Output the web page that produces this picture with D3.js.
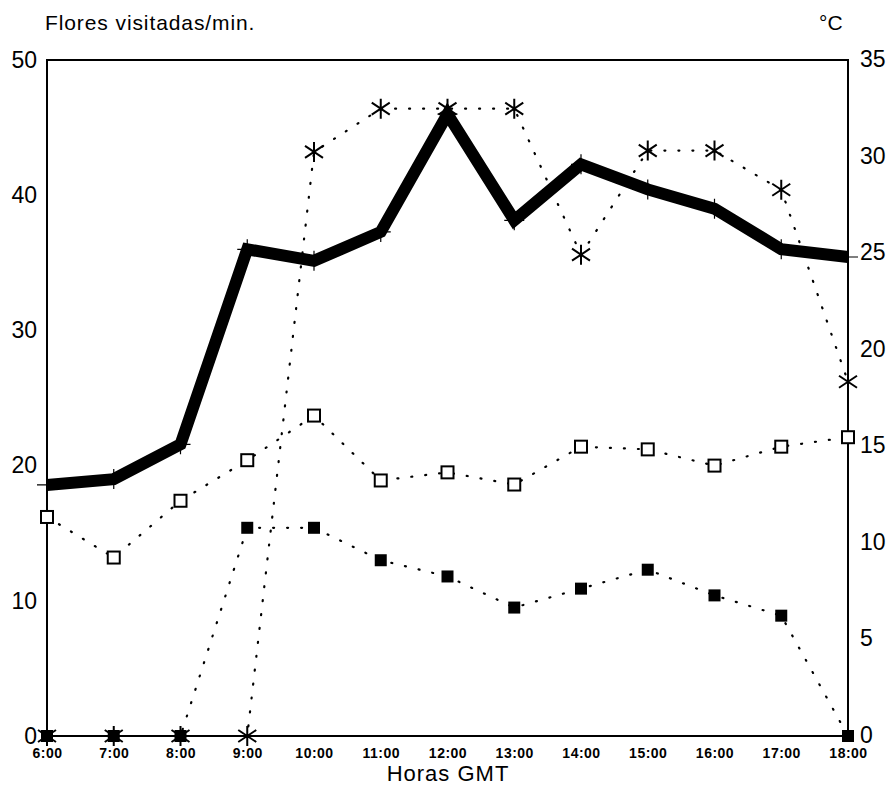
<!DOCTYPE html>
<html>
<head>
<meta charset="utf-8">
<script src="https://cdn.jsdelivr.net/npm/d3@7"></script>
<style>
  body { margin: 0; background: #fff; }
  text { font-family: "Liberation Sans", Arial, sans-serif; fill: #000; }
</style>
</head>
<body>
<svg id="chart" width="892" height="807"></svg>
<script>
const hours = ["6:00","7:00","8:00","9:00","10:00","11:00","12:00","13:00","14:00","15:00","16:00","17:00","18:00"];
const temperature = [13.0, 13.3, 15.1, 25.2, 24.6, 26.1, 32.2, 26.7, 29.6, 28.3, 27.3, 25.2, 24.8];
const seriesAsterisk = [0, 0, 0, 0, 43.2, 46.4, 46.4, 46.4, 35.6, 43.3, 43.3, 40.4, 26.2];
const seriesOpenSquare = [16.2, 13.2, 17.4, 20.4, 23.7, 18.9, 19.5, 18.6, 21.4, 21.2, 20.0, 21.4, 22.1];
const seriesFilledSquare = [0, 0, 0, 15.4, 15.4, 13.0, 11.8, 9.5, 10.9, 12.3, 10.4, 8.9, 0];
const leftTicks = [0, 10, 20, 30, 40, 50];
const rightTicks = [0, 5, 10, 15, 20, 25, 30, 35];

(function () {
const svg = d3.select("#chart");
const mL = 47, mR = 848, mT = 60, mB = 736;

const x = d3.scalePoint().domain(hours).range([mL, mR]);
const yL = d3.scaleLinear().domain([0, 50]).range([mB, mT]);
const yR = d3.scaleLinear().domain([0, 35]).range([mB, mT]);

// frame
svg.append("rect").attr("x", mL).attr("y", mT).attr("width", mR - mL).attr("height", mB - mT)
  .attr("fill", "none").attr("stroke", "#000").attr("stroke-width", 2);

// left axis
const axL = svg.append("g").attr("transform", `translate(${mL},0)`)
  .call(d3.axisLeft(yL).tickValues(leftTicks).tickSize(0).tickPadding(10));
axL.select(".domain").remove();
axL.selectAll("text").style("font-size", "23px").style("font-family", "Liberation Sans, Arial, sans-serif");

// right axis
const axR = svg.append("g").attr("transform", `translate(${mR},0)`)
  .call(d3.axisRight(yR).tickValues(rightTicks).tickSize(0).tickPadding(12));
axR.select(".domain").remove();
axR.selectAll("text").style("font-size", "23px").style("font-family", "Liberation Sans, Arial, sans-serif")
  .attr("dy", "0.28em");

// bottom axis
const axB = svg.append("g").attr("transform", `translate(0,${mB})`)
  .call(d3.axisBottom(x).tickSize(0).tickPadding(12));
axB.select(".domain").remove();
axB.selectAll("text").style("font-size", "14px").style("font-weight", "bold").style("letter-spacing", "0.5px")
  .style("font-family", "Liberation Sans, Arial, sans-serif");

// titles
svg.append("text").attr("x", 45).attr("y", 30).style("font-size", "21px").style("letter-spacing", "0.9px").text("Flores visitadas/min.");
svg.append("text").attr("x", 819).attr("y", 30).style("font-size", "21px").text("°C");
svg.append("text").attr("x", 448).attr("y", 781).attr("text-anchor", "middle").style("font-size", "22px")
  .style("letter-spacing", "1px").text("Horas GMT");

// dotted lines
function dotted(vals, scale) {
  svg.append("path").datum(vals)
    .attr("d", d3.line().x((d, i) => x(hours[i])).y(d => scale(d)))
    .attr("fill", "none").attr("stroke", "#000").attr("stroke-width", 2.2)
    .attr("stroke-dasharray", "1,13").attr("stroke-linecap", "round");
}
dotted(seriesAsterisk, yL);
dotted(seriesOpenSquare, yL);
dotted(seriesFilledSquare, yL);

// thick temperature line
svg.append("path").datum(temperature)
  .attr("d", d3.line().x((d, i) => x(hours[i])).y(d => yR(d)))
  .attr("fill", "none").attr("stroke", "#000").attr("stroke-width", 12).attr("stroke-linejoin", "miter");
// small + markers
svg.append("g").selectAll("path").data(temperature).join("path")
  .attr("transform", (d, i) => `translate(${x(hours[i])},${yR(d)})`)
  .attr("d", "M-10,0H10M0,-10V10").attr("stroke", "#000").attr("stroke-width", 1.2);

// open squares
const s = 12;
svg.append("g").selectAll("rect").data(seriesOpenSquare).join("rect")
  .attr("x", (d, i) => x(hours[i]) - s / 2).attr("y", d => yL(d) - s / 2)
  .attr("width", s).attr("height", s).attr("fill", "#fff").attr("stroke", "#000").attr("stroke-width", 2);

// filled squares
svg.append("g").selectAll("rect").data(seriesFilledSquare).join("rect")
  .attr("x", (d, i) => x(hours[i]) - s / 2).attr("y", d => yL(d) - s / 2)
  .attr("width", s).attr("height", s).attr("fill", "#000");

// asterisks
const a = 10;
const astPath = `M0,${-a}V${a}M${-a * 0.9},${-a * 0.6}L${a * 0.9},${a * 0.6}M${-a * 0.9},${a * 0.6}L${a * 0.9},${-a * 0.6}`;
svg.append("g").selectAll("path").data(seriesAsterisk).join("path")
  .attr("transform", (d, i) => `translate(${x(hours[i])},${yL(d)})`)
  .attr("d", astPath).attr("fill", "none").attr("stroke", "#000").attr("stroke-width", 2);
})();
</script>
</body>
</html>
